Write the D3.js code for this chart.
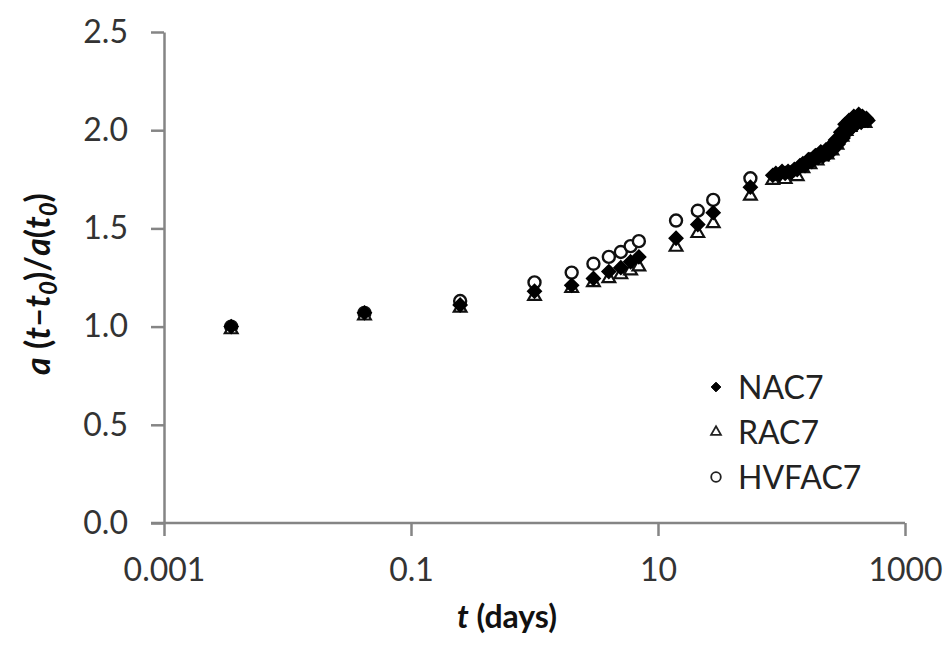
<!DOCTYPE html>
<html>
<head>
<meta charset="utf-8">
<script src="https://cdn.jsdelivr.net/npm/d3@7"></script>
<style>
  html, body { margin: 0; padding: 0; background: #fff; }
  svg { display: block; font-family: Lato, "Open Sans", sans-serif; }
</style>
</head>
<body>
<svg id="chart" width="951" height="645"></svg>
<script>
// Axis ticks
const xTicks = [0.001, 0.1, 10, 1000];
const yTicks = [0, 0.5, 1.0, 1.5, 2.0, 2.5];

// Ages (days) and normalised values per mix
const nacDays = [0.0035, 0.042, 0.25, 1, 2, 3, 4, 5, 6, 7, 14, 21, 28, 56,
                 85, 90, 96, 101, 107, 113, 120, 127, 134, 141, 149, 155, 160, 165, 170, 176, 182, 188, 194, 198,
                 203, 208, 213, 218, 224, 229, 234, 240, 245, 250, 256, 262, 268, 274, 281, 288, 295, 302,
                 309, 315, 320, 327, 333, 340, 346, 352, 359, 367, 376, 385, 394, 403, 412, 422, 432, 442,
                 452, 463, 474, 487, 501];
const nacValues = [1.00, 1.07, 1.11, 1.18, 1.21, 1.245, 1.28, 1.30, 1.33, 1.355, 1.45, 1.52, 1.58, 1.71,
                   1.77, 1.78, 1.775, 1.79, 1.78, 1.79, 1.785, 1.80, 1.80, 1.82, 1.83, 1.82, 1.835, 1.85, 1.85,
                   1.84, 1.86, 1.87, 1.87, 1.86, 1.875, 1.89, 1.88, 1.87, 1.885, 1.90, 1.89, 1.88, 1.90, 1.92,
                   1.91, 1.90, 1.925, 1.95, 1.94, 1.93, 1.96, 1.99, 1.98, 1.96, 2.00, 2.03, 2.01, 1.99, 2.02,
                   2.05, 2.03, 2.01, 2.04, 2.07, 2.05, 2.03, 2.06, 2.08, 2.06, 2.04, 2.07, 2.06, 2.05, 2.06,
                   2.05, 2.04];

const racDays = [0.0035, 0.042, 0.25, 1, 2, 3, 4, 5, 6, 7, 14, 21, 28, 56,
                 85, 107, 134, 149, 170, 194, 213, 234, 256, 281, 309, 333, 359, 394, 432, 474];
const racValues = [0.99, 1.06, 1.10, 1.16, 1.20, 1.23, 1.25, 1.27, 1.29, 1.31, 1.41, 1.48, 1.53, 1.67,
                   1.75, 1.755, 1.77, 1.81, 1.83, 1.85, 1.87, 1.88, 1.90, 1.93, 1.97, 2.00, 2.02, 2.04, 2.05, 2.04];

const hvfDays = [0.0035, 0.042, 0.25, 1, 2, 3, 4, 5, 6, 7, 14, 21, 28, 56];
const hvfValues = [1.00, 1.07, 1.13, 1.225, 1.275, 1.32, 1.355, 1.38, 1.41, 1.435, 1.54, 1.59, 1.645, 1.755];

const seriesNames = ["NAC7", "RAC7", "HVFAC7"];

const svg = d3.select("#chart");
const x = d3.scaleLog().domain([0.001, 1000]).range([164, 905]);
const y = d3.scaleLinear().domain([0, 2.5]).range([523, 32]);

const axisColor = "#858585";
const labelColor = "#333";

// Axes
const gx = svg.append("g").attr("transform", `translate(0,${y(0)})`)
  .call(d3.axisBottom(x).tickValues(xTicks).tickFormat(d3.format("~g"))
    .tickSizeInner(13).tickSizeOuter(0).tickPadding(22));
const gy = svg.append("g").attr("transform", `translate(${x(0.001)},0)`)
  .call(d3.axisLeft(y).tickValues(yTicks).tickFormat(d3.format(".1f"))
    .tickSizeInner(13).tickSizeOuter(0).tickPadding(23));

[gx, gy].forEach(g => {
  g.select(".domain").attr("stroke", axisColor).attr("stroke-width", 2.5);
  g.selectAll(".tick line").attr("stroke", axisColor).attr("stroke-width", 2.5);
  g.selectAll(".tick text").attr("fill", labelColor).style("font-size", "32px")
    .style("font-family", "Lato, 'Open Sans', sans-serif");
});
// x domain extends left to meet the 0.0 tick
gx.select(".domain").attr("d", `M${x(0.001) - 13},0H${x(1000)}`);

// Marker shapes
const diamond = d3.symbol().type(d3.symbolDiamond2).size(120);
const triangle = d3.symbol().type(d3.symbolTriangle).size(70);

function zip(days, vals) { return days.map((d, i) => ({ t: d, v: vals[i] })); }

// HVFAC7: open circles
svg.append("g").selectAll("circle").data(zip(hvfDays, hvfValues)).join("circle")
  .attr("cx", d => x(d.t)).attr("cy", d => y(d.v)).attr("r", 6)
  .attr("fill", "#fff").attr("stroke", "#111").attr("stroke-width", 2.4);

// RAC7: open triangles
svg.append("g").selectAll("path").data(zip(racDays, racValues)).join("path")
  .attr("d", triangle)
  .attr("transform", d => `translate(${x(d.t)},${y(d.v) + 1})`)
  .attr("fill", "#fff").attr("stroke", "#111").attr("stroke-width", 2.2);

// NAC7: filled diamonds
svg.append("g").selectAll("path").data(zip(nacDays, nacValues)).join("path")
  .attr("d", diamond)
  .attr("transform", d => `translate(${x(d.t)},${y(d.v)})`)
  .attr("fill", "#000").attr("stroke", "#000").attr("stroke-width", 1.5);

// Legend
const legend = svg.append("g").attr("transform", "translate(716,387)");
seriesNames.forEach((name, i) => {
  const row = legend.append("g").attr("transform", `translate(0,${i * 45})`);
  if (i === 0) {
    row.append("path").attr("d", d3.symbol().type(d3.symbolDiamond2).size(60))
      .attr("fill", "#000").attr("stroke", "#000").attr("stroke-width", 1);
  } else if (i === 1) {
    row.append("path").attr("d", d3.symbol().type(d3.symbolTriangle).size(42))
      .attr("fill", "#fff").attr("stroke", "#222").attr("stroke-width", 1.8);
  } else {
    row.append("circle").attr("r", 4.8).attr("fill", "#fff")
      .attr("stroke", "#222").attr("stroke-width", 1.8);
  }
  row.append("text").attr("x", 22).attr("dy", "0.36em")
    .attr("fill", "#222").style("font-size", "32px").text(name);
});

// Axis titles
const xTitle = svg.append("text").attr("x", 507).attr("y", 628)
  .attr("text-anchor", "middle").attr("font-weight", "bold")
  .attr("fill", "#111").style("font-size", "32px");
xTitle.append("tspan").attr("font-style", "italic").text("t");
xTitle.append("tspan").text(" (days)");

const yTitle = svg.append("text").attr("transform", "translate(50,284) rotate(-90)")
  .attr("text-anchor", "middle").attr("font-weight", "bold")
  .attr("fill", "#111").style("font-size", "34px");
const parts = [
  { s: "a", it: true }, { s: " (" }, { s: "t", it: true }, { s: "–" }, { s: "t", it: true },
  { s: "0", it: true, sub: true }, { s: ")/" }, { s: "a", it: true }, { s: "(" },
  { s: "t", it: true }, { s: "0", it: true, sub: true }, { s: ")" }
];
let shifted = false;
parts.forEach(p => {
  const ts = yTitle.append("tspan").text(p.s);
  if (p.it) ts.attr("font-style", "italic");
  if (p.sub) { ts.attr("dy", 7).style("font-size", "24px"); shifted = true; }
  else if (shifted) { ts.attr("dy", -7); shifted = false; }
});
</script>
</body>
</html>
